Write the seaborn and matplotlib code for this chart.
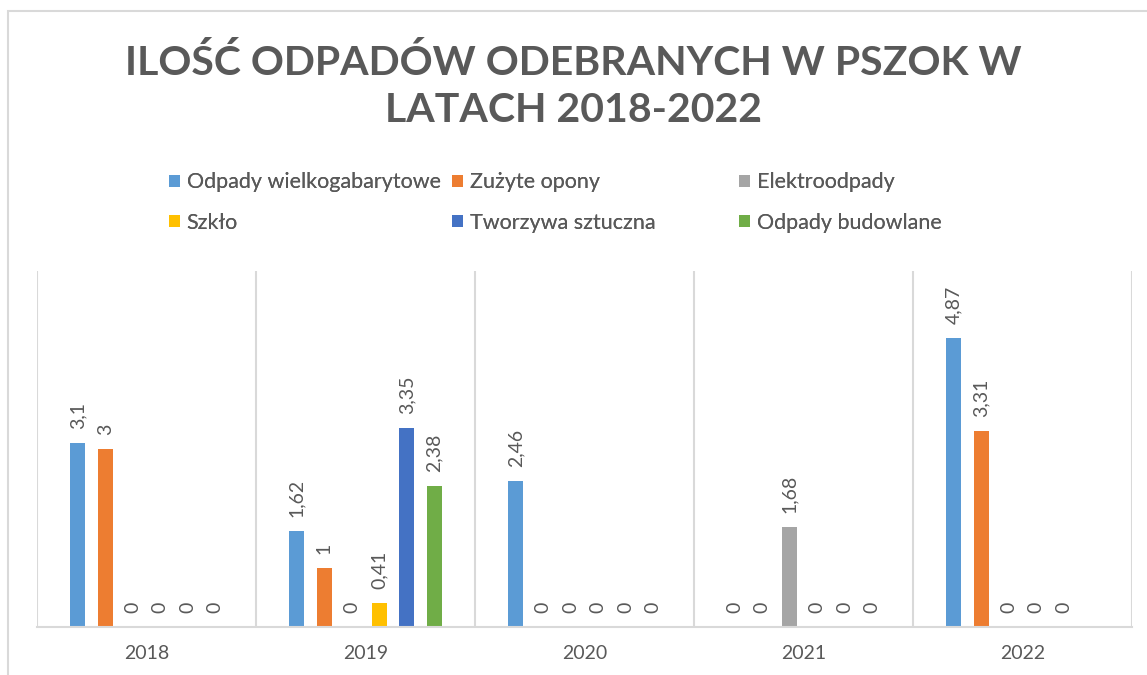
import numpy as np
import pandas as pd
import matplotlib
matplotlib.use("Agg")
import matplotlib.pyplot as plt
import seaborn as sns
from matplotlib.patches import Rectangle

# ============ Data ============
years = ["2018", "2019", "2020", "2021", "2022"]
series = ["Odpady wielkogabarytowe", "Zużyte opony", "Elektroodpady",
          "Szkło", "Tworzywa sztuczna", "Odpady budowlane"]
wielkogabarytowe = [3.1, 1.62, 2.46, 0, 4.87]
opony = [3, 1, 0, 0, 3.31]
elektro = [0, 0, 0, 1.68, 0]
szklo = [0, 0.41, 0, 0, 0]
tworzywa = [0, 3.35, 0, 0, 0]
budowlane = [0, 2.38, 0, 0, np.nan]

colors = ["#5B9BD5", "#ED7D31", "#A5A5A5", "#FFC000", "#4472C4", "#70AD47"]
TEXT = "#595959"
GRID = "#D9D9D9"

rows = []
for name, vals in zip(series, [wielkogabarytowe, opony, elektro, szklo, tworzywa, budowlane]):
    for y, v in zip(years, vals):
        if not np.isnan(v):
            rows.append({"rok": y, "seria": name, "ilosc": v})
df = pd.DataFrame(rows)

# ============ Plot ============
sns.set_style("white")
plt.rcParams["font.family"] = ["Lato", "DejaVu Sans"]

fig = plt.figure(figsize=(11.47, 6.75), dpi=100)
ax = fig.add_axes([37 / 1147, 1 - 627 / 675, (1132 - 37) / 1147, (627 - 271) / 675])

sns.barplot(data=df, x="rok", y="ilosc", hue="seria", order=years, hue_order=series,
            palette=colors, saturation=1, width=0.753, gap=0.45, errorbar=None, ax=ax,
            edgecolor="none", linewidth=0)

fmt = lambda v: f"{v:g}".replace(".", ",")
for cont in ax.containers:
    ax.bar_label(cont, fmt=fmt, rotation=90, padding=10, color=TEXT, fontsize=14)

ax.set_ylim(0, 6)
ax.set_xlim(-0.5, 4.5)
ax.set_xlabel("")
ax.set_ylabel("")
ax.set_yticks([])
ax.tick_params(axis="x", length=0, pad=13, labelsize=14, labelcolor=TEXT)
for s in ["top", "right", "left"]:
    ax.spines[s].set_visible(False)
ax.spines["bottom"].set_color(GRID)
ax.spines["bottom"].set_linewidth(1.5)
for xb in np.arange(-0.5, 5, 1.0):
    ax.axvline(xb, color=GRID, linewidth=1.5, zorder=0)

# Legend: three columns of equal width like Excel
handles, labels = ax.get_legend_handles_labels()
ax.legend_.remove()
col_x = [150, 433, 720]
for c in range(3):
    leg = fig.legend([handles[c], handles[c + 3]], [labels[c], labels[c + 3]],
                     loc="upper left", bbox_to_anchor=(col_x[c] / 1147, 1 - 153 / 675),
                     frameon=False, fontsize=15.5, handlelength=0.5, handleheight=0.5,
                     handletextpad=0.3, labelspacing=0.95, labelcolor=TEXT)
    fig.add_artist(leg)

fig.suptitle("ILOŚĆ ODPADÓW ODEBRANYCH W PSZOK W\nLATACH 2018-2022",
             x=0.5, y=1 - 44 / 675, va="top", fontsize=29.5, fontweight="bold",
             color=TEXT, linespacing=1.35)

# outer chart border
fig.patches.append(Rectangle((8 / 1147, -0.1), 1.2, 1 - 11 / 675 + 0.1,
                             transform=fig.transFigure, fill=False,
                             edgecolor=GRID, linewidth=1.5))

fig.savefig("out.png", dpi=100, facecolor="white")
